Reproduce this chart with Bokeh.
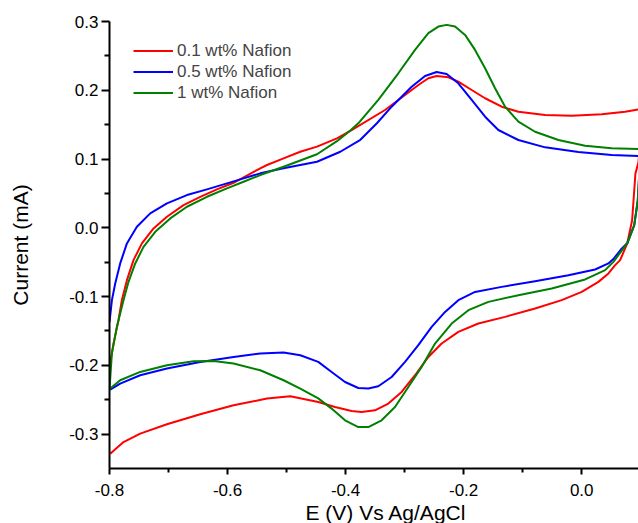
from bokeh.plotting import figure
from bokeh.models import Range1d, FixedTicker, PrintfTickFormatter, Legend, LegendItem, Title
from bokeh.embed import file_html
from bokeh.resources import INLINE

# ---- data (E in V vs Ag/AgCl, current in mA) ----
# 0.1 wt% Nafion : forward (anodic) scan, then reverse scan
red_fwd_x = [-0.8, -0.7932, -0.7847, -0.779, -0.7705, -0.7593, -0.7451, -0.7254, -0.7027, -0.6746, -0.6463,
             -0.618, -0.5898, -0.5446, -0.5332, -0.5051, -0.4768, -0.4485, -0.4146, -0.3898, -0.3332, -0.2993,
             -0.2768, -0.2598, -0.2458, -0.2259, -0.2091, -0.1864, -0.1637, -0.1356, -0.1073, -0.062, -0.0169,
             0.0339, 0.0736, 0.0961, 0.1]
red_fwd_y = [-0.202, -0.168, -0.134, -0.105, -0.0761, -0.047, -0.0227, -0.0009, 0.016, 0.033, 0.0451,
             0.0559, 0.0655, 0.0865, 0.0913, 0.101, 0.1106, 0.118, 0.130, 0.1422, 0.1713, 0.1932,
             0.2077, 0.2175, 0.2208, 0.2189, 0.2125, 0.2004, 0.1884, 0.1761, 0.1688, 0.164, 0.163,
             0.1651, 0.1688, 0.1723, 0.173]
red_rev_x = [0.1, 0.096, 0.091, 0.0854, 0.077, 0.0651, 0.0566, 0.0453, 0.0283, 0.0, -0.0339, -0.079, -0.1298,
             -0.1751, -0.209, -0.2373, -0.2598, -0.2824, -0.3051, -0.3276, -0.3502, -0.3729, -0.3898, -0.418,
             -0.4463, -0.4937, -0.5332, -0.5898, -0.6463, -0.7027, -0.748, -0.7763, -0.7988]
red_rev_y = [0.13, 0.095, 0.079, 0.011, -0.023, -0.047, -0.0543, -0.0664, -0.0786, -0.0932, -0.1052, -0.1173,
             -0.1295, -0.1392, -0.1514, -0.1683, -0.1878, -0.2144, -0.2387, -0.2556, -0.2654, -0.2678, -0.2664,
             -0.2606, -0.2533, -0.245, -0.2483, -0.2581, -0.2712, -0.2857, -0.2993, -0.3115, -0.3284]

# 0.5 wt% Nafion
blue_fwd_x = [-0.8, -0.7959, -0.7903, -0.7819, -0.7705, -0.7536, -0.731, -0.7027, -0.6688, -0.6349, -0.601,
              -0.5729, -0.5446, -0.5051, -0.4485, -0.409, -0.375, -0.347, -0.322, -0.2881, -0.2654, -0.2458,
              -0.2288, -0.2091, -0.1864, -0.1637, -0.1412, -0.1073, -0.062, -0.0056, 0.0508, 0.0961, 0.1]
blue_fwd_y = [-0.137, -0.1052, -0.0809, -0.0518, -0.0227, 0.0015, 0.021, 0.0355, 0.0476, 0.0559, 0.0646,
              0.0719, 0.0792, 0.0865, 0.0961, 0.1106, 0.128, 0.152, 0.1761, 0.2052, 0.2208, 0.2266,
              0.2237, 0.2102, 0.1859, 0.1616, 0.1422, 0.1277, 0.117, 0.1102, 0.1058, 0.1044, 0.104]
blue_rev_x = [0.1, 0.097, 0.095, 0.089, 0.0775, 0.066, 0.054, 0.0453, 0.0227, -0.0225, -0.079, -0.1356,
              -0.1807, -0.209, -0.2315, -0.2542, -0.2768, -0.2993, -0.322, -0.3446, -0.3615, -0.3785, -0.401,
              -0.4237, -0.4463, -0.4768, -0.5051, -0.5446, -0.5898, -0.6463, -0.7027, -0.748, -0.7819, -0.7988]
blue_rev_y = [0.09, 0.07, 0.04, 0.004, -0.022, -0.032, -0.045, -0.0518, -0.0606, -0.069, -0.0776, -0.0859,
              -0.0932, -0.1052, -0.1223, -0.1441, -0.1707, -0.195, -0.2169, -0.2304, -0.2338, -0.2329, -0.2242,
              -0.2096, -0.195, -0.1853, -0.1814, -0.1828, -0.1878, -0.1951, -0.2047, -0.2144, -0.2265, -0.2352]

# 1 wt% Nafion
green_fwd_x = [-0.8, -0.796, -0.7875, -0.7763, -0.7678, -0.7564, -0.7424, -0.7225, -0.6971, -0.6688, -0.6349,
               -0.601, -0.5729, -0.5446, -0.5051, -0.4485, -0.4146, -0.3915, -0.3785, -0.3446, -0.3107, -0.2824,
               -0.2598, -0.2429, -0.2288, -0.2146, -0.1976, -0.1807, -0.1637, -0.1468, -0.1298, -0.1073, -0.079,
               -0.0395, 0.0058, 0.0508, 0.0961, 0.1]
green_fwd_y = [-0.235, -0.183, -0.144, -0.1052, -0.0786, -0.0518, -0.0277, -0.0058, 0.0137, 0.0306, 0.0451,
               0.0574, 0.067, 0.0767, 0.0888, 0.107, 0.126, 0.142, 0.152, 0.1859, 0.2247, 0.2587,
               0.283, 0.2926, 0.2951, 0.2926, 0.2805, 0.2587, 0.232, 0.2029, 0.1761, 0.1543, 0.1397,
               0.1277, 0.1194, 0.1156, 0.1146, 0.1146]
green_rev_x = [0.1, 0.097, 0.095, 0.089, 0.0775, 0.0537, 0.0397, 0.0058, -0.0508, -0.1073, -0.1581, -0.192,
               -0.2203, -0.2485, -0.2712, -0.2937, -0.3163, -0.339, -0.3615, -0.3785, -0.401, -0.4237, -0.4463,
               -0.4768, -0.5051, -0.5446, -0.5898, -0.6237, -0.6576, -0.7027, -0.748, -0.7819, -0.7988]
green_rev_y = [0.095, 0.072, 0.04, 0.004, -0.022, -0.0495, -0.0616, -0.0751, -0.0882, -0.098, -0.1077, -0.1198,
               -0.1392, -0.1683, -0.2023, -0.2314, -0.2606, -0.2799, -0.2897, -0.2897, -0.2799, -0.2629, -0.248,
               -0.2338, -0.2217, -0.2071, -0.1974, -0.1936, -0.194, -0.1999, -0.2096, -0.2217, -0.2338]

labels = ["0.1 wt% Nafion", "0.5 wt% Nafion", "1 wt% Nafion"]
colors = ["#ff0000", "#0000ff", "#008000"]

x_ticks = [-0.8, -0.6, -0.4, -0.2, 0.0]
x_minor = [-0.7, -0.5, -0.3, -0.1, 0.1]
y_ticks = [-0.3, -0.2, -0.1, 0.0, 0.1, 0.2, 0.3]
y_minor = [-0.25, -0.15, -0.05, 0.05, 0.15, 0.25]

FONT = "Liberation Sans"

p = figure(width=638, height=523, output_backend="svg", toolbar_location=None,
           x_range=Range1d(-0.8, 0.0962), y_range=Range1d(-0.35, 0.30),
           min_border_left=109, min_border_right=0, min_border_top=21, min_border_bottom=55)
p.outline_line_color = None
p.xgrid.visible = False
p.ygrid.visible = False
p.background_fill_color = "white"
p.border_fill_color = "white"

series = [
    (red_fwd_x + red_rev_x, red_fwd_y + red_rev_y),
    (blue_fwd_x + blue_rev_x, blue_fwd_y + blue_rev_y),
    (green_fwd_x + green_rev_x, green_fwd_y + green_rev_y),
]
renderers = []
for (xs, ys), c in zip(series, colors):
    r = p.line(xs, ys, line_color=c, line_width=2, line_join="round")
    renderers.append(r)

for ax, ticks, minor in ((p.xaxis[0], x_ticks, x_minor), (p.yaxis[0], y_ticks, y_minor)):
    ax.ticker = FixedTicker(ticks=ticks, minor_ticks=minor)
    ax.formatter = PrintfTickFormatter(format="%.1f")
    ax.axis_line_width = 2
    ax.axis_line_color = "black"
    ax.major_tick_line_width = 2
    ax.minor_tick_line_width = 2
    ax.major_tick_in = 0
    ax.minor_tick_in = 0
    ax.major_label_text_font = FONT
    ax.major_label_text_font_size = "17px"
    ax.major_label_text_color = "black"
    ax.axis_label_text_font = FONT
    ax.axis_label_text_font_size = "21px"
    ax.axis_label_text_font_style = "normal"
    ax.axis_label_text_color = "black"

p.xaxis.major_tick_out = 6
p.xaxis.minor_tick_out = 4
p.yaxis.major_tick_out = 8
p.yaxis.minor_tick_out = 5
p.xaxis.major_label_standoff = 9
p.yaxis.major_label_standoff = 3
p.yaxis.axis_label = "Current (mA)"
p.yaxis.axis_label_standoff = 34

xtitle = Title(text="E (V) Vs Ag/AgCl", align="left", offset=196, standoff=0,
               text_font=FONT, text_font_size="21px", text_font_style="normal", text_color="black")
p.add_layout(xtitle, "below")

legend = Legend(items=[LegendItem(label=l, renderers=[r]) for l, r in zip(labels, renderers)],
                location=(24, 365), padding=0, margin=0, spacing=0,
                border_line_color=None, background_fill_alpha=0,
                glyph_width=40, glyph_height=21, label_height=21, label_standoff=4,
                label_text_font=FONT, label_text_font_size="17px")
p.add_layout(legend)

open("out.html", "w").write(file_html(p, INLINE))
